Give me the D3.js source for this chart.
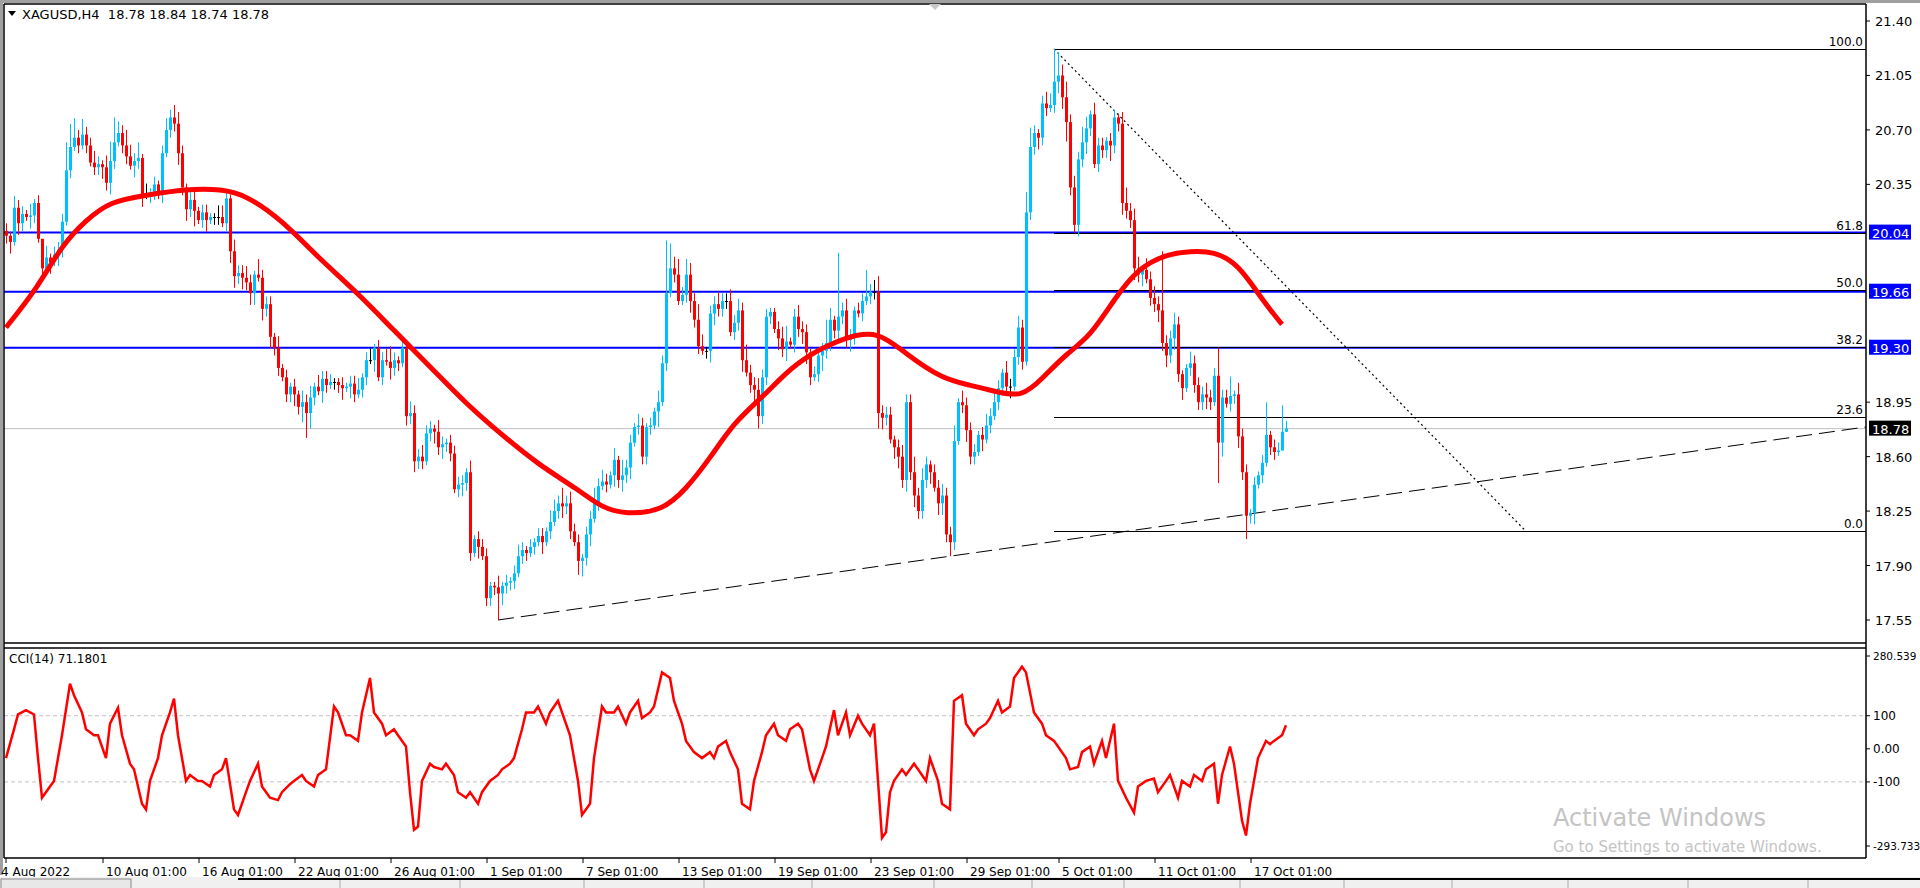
<!DOCTYPE html>
<html><head><meta charset="utf-8">
<script src="https://cdn.jsdelivr.net/npm/d3@7"></script>
<style>body{margin:0;background:#fff;overflow:hidden}svg{display:block;font-family:Tahoma,"DejaVu Sans",sans-serif}</style>
</head><body><svg id="c" width="1920" height="888"></svg>
<script>
const closes=[20.02,19.98,20.20,20.10,20.16,20.14,20.15,20.23,20.00,19.81,
19.88,19.85,19.90,19.93,20.11,20.44,20.59,20.65,20.60,20.67,
20.60,20.49,20.46,20.48,20.46,20.36,20.50,20.62,20.68,20.60,
20.53,20.47,20.50,20.52,20.28,20.28,20.30,20.35,20.28,20.55,
20.70,20.78,20.74,20.55,20.33,20.19,20.25,20.18,20.12,20.17,
20.12,20.14,20.14,20.14,20.10,20.26,19.92,19.76,19.78,19.75,
19.72,19.65,19.77,19.75,19.55,19.58,19.37,19.30,19.17,19.11,
19.00,19.05,19.00,18.92,18.95,18.88,18.98,19.05,19.02,19.10,
19.06,19.08,19.08,19.06,19.04,19.05,19.07,19.00,19.03,19.11,
19.22,19.22,19.30,19.11,19.22,19.21,19.17,19.22,19.20,19.30,
18.86,18.88,18.57,18.60,18.57,18.75,18.78,18.76,18.66,18.68,
18.69,18.62,18.39,18.42,18.43,18.50,17.98,18.07,18.02,17.96,
17.69,17.77,17.76,17.72,17.77,17.79,17.80,17.85,17.96,18.00,
17.98,18.02,18.05,18.09,18.05,18.12,18.18,18.25,18.30,18.28,
18.30,18.12,18.05,17.93,17.95,18.10,18.20,18.30,18.41,18.44,
18.42,18.48,18.58,18.45,18.48,18.53,18.69,18.79,18.80,18.60,
18.79,18.80,18.89,18.95,19.20,19.65,19.81,19.77,19.60,19.64,
19.77,19.60,19.48,19.31,19.28,19.28,19.52,19.58,19.55,19.60,
19.60,19.40,19.46,19.54,19.22,19.14,19.06,19.03,18.86,19.11,
19.50,19.53,19.42,19.36,19.29,19.34,19.32,19.50,19.42,19.40,
19.27,19.11,19.13,19.25,19.28,19.33,19.48,19.41,19.50,19.54,
19.35,19.37,19.54,19.52,19.60,19.63,19.66,19.66,18.88,18.85,
18.87,18.71,18.66,18.60,18.45,18.95,18.50,18.35,18.25,18.45,
18.55,18.50,18.40,18.30,18.35,18.10,18.05,18.70,18.95,18.93,
18.77,18.60,18.63,18.74,18.71,18.80,18.86,18.95,19.04,19.14,
19.05,19.05,19.24,19.43,19.21,20.17,20.59,20.68,20.65,20.87,
20.84,20.86,21.01,21.05,20.91,20.75,20.33,20.09,20.51,20.62,
20.71,20.80,20.48,20.60,20.57,20.63,20.60,20.78,20.74,20.23,
20.18,20.12,19.81,19.77,19.80,19.74,19.62,19.58,19.54,19.33,
19.25,19.36,19.45,19.13,19.04,19.17,19.20,19.06,18.95,19.00,
18.98,18.95,19.12,18.69,18.98,18.94,18.99,19.00,18.73,18.50,
18.22,18.24,18.42,18.48,18.56,18.74,18.66,18.63,18.64,18.76,18.78];
const firstOpen=20.05;
// wick lengths, one digit per bar, in units of 0.025
const upperWicks="2132213120312224652422321352324324131212321321231221133213223214222131212132313222112122312312234213232232213212222131222113121232121221332423221224232131422132121324634243243122322323242232211234123221212631423212232342221232242321223224132221232321322322521233463423243132212213423313232322321132223223225132212123122423";
const lowerWicks="2313213212231321212121223232122132312212122323241231221233232331323221223242421321223132122131213221223221232322123221312223322212212131212322134231212132323122221412121123221233222122312322221323122332124222322321212243213323232223133212123221312122231221223221233522323212224223223231223232323122223213312232223121221";
const highOverrides=[[262,21.22],[165,19.99],[166,19.97],[208,19.91],[215,19.80],[289,19.92],[303,19.30],[315,18.95],[319,18.93],[42,20.86],[27,20.78],[15,20.62],[255,20.30],[264,21.12]];
const lowOverrides=[[123,17.55],[236,17.96],[310,18.07],[75,18.72],[303,18.43],[143,17.84],[188,18.78],[102,18.50],[304,18.60],[100,18.80]];
const maPoints=[[0,19.43],[8,19.69],[14,19.96],[20,20.12],[26,20.24],[35,20.28],[45,20.32],[54,20.32],[60,20.28],[69,20.12],[78,19.88],[88,19.65],[97,19.41],[106,19.18],[115,18.94],[124,18.74],[133,18.55],[143,18.39],[149,18.27],[155,18.23],[164,18.25],[170,18.39],[176,18.59],[182,18.82],[189,18.98],[195,19.14],[201,19.26],[210,19.37],[218,19.41],[225,19.26],[234,19.10],[241,19.06],[247,19.02],[254,18.98],[259,19.10],[265,19.26],[271,19.37],[277,19.61],[283,19.81],[290,19.90],[296,19.92],[302,19.92],[308,19.84],[314,19.61],[319,19.45]];
const cciPoints=[[0,-28],[2,59],[3,104],[5,117],[7,104],[8,-28],[9,-148],[11,-114],[12,-97],[14,41],[16,197],[17,162],[19,110],[20,59],[22,41],[23,41],[25,-28],[26,76],[28,124],[29,41],[31,-45],[32,-62],[34,-166],[35,-183],[36,-97],[38,-28],[39,41],[41,110],[42,152],[43,41],[45,-97],[46,-79],[48,-97],[49,-97],[51,-114],[52,-79],[54,-62],[55,-28],[57,-183],[58,-200],[60,-131],[61,-97],[63,-45],[64,-114],[66,-148],[68,-155],[69,-131],[71,-107],[72,-97],[74,-79],[75,-97],[77,-114],[78,-79],[80,-62],[82,128],[83,110],[85,41],[86,41],[88,24],[89,110],[91,214],[92,110],[94,76],[95,41],[97,59],[98,41],[100,7],[101,-131],[102,-245],[103,-235],[104,-97],[106,-45],[107,-55],[109,-62],[110,-45],[112,-79],[113,-131],[115,-148],[116,-131],[118,-166],[119,-131],[121,-97],[123,-79],[124,-62],[126,-45],[127,-28],[129,59],[130,110],[132,110],[133,128],[135,76],[136,110],[138,145],[139,110],[141,41],[143,-97],[144,-200],[146,-166],[147,-28],[149,128],[150,110],[152,110],[153,128],[155,76],[156,110],[158,145],[159,93],[161,110],[162,128],[164,231],[166,214],[167,145],[169,76],[170,24],[172,-10],[174,-28],[176,-10],[177,-28],[178,7],[180,24],[181,-10],[183,-62],[184,-166],[186,-183],[187,-97],[189,-10],[190,41],[192,76],[193,41],[195,24],[196,59],[198,76],[199,59],[201,-62],[202,-97],[204,-28],[205,7],[207,117],[208,41],[210,110],[211,41],[213,100],[214,76],[216,41],[217,76],[219,-269],[220,-252],[221,-131],[222,-97],[224,-62],[225,-79],[227,-45],[228,-62],[230,-97],[231,-28],[233,-97],[234,-166],[236,-183],[237,145],[239,162],[240,76],[242,41],[243,59],[245,76],[246,93],[248,145],[249,110],[251,128],[252,214],[254,248],[255,231],[257,110],[259,76],[260,41],[262,24],[263,7],[265,-28],[266,-62],[268,-55],[269,-10],[271,7],[272,-45],[274,24],[275,-28],[277,76],[278,-97],[280,-148],[282,-193],[283,-114],[285,-97],[287,-90],[288,-131],[290,-97],[291,-79],[293,-148],[294,-97],[296,-114],[297,-79],[299,-97],[300,-62],[302,-45],[303,-166],[304,-79],[306,7],[307,-45],[309,-217],[310,-262],[311,-166],[313,-28],[315,24],[316,14],[317,24],[319,41],[320,71]];
const fibLevels=[0,23.6,38.2,50.0,61.8,100.0];
const fibLow=18.12, fibHigh=21.22;
const blueLevels=[20.04,19.66,19.30];
const priceTicks=[21.40,21.05,20.70,20.35,18.95,18.60,18.25,17.90,17.55];
const cciTicks=[[280.539,"280.539"],[100,"100"],[0,"0.00"],[-100,"-100"],[-293.733,"-293.733"]];
const dateLabels=[[0,"4 Aug 2022"],[24,"10 Aug 01:00"],[48,"16 Aug 01:00"],[72,"22 Aug 01:00"],[96,"26 Aug 01:00"],[120,"1 Sep 01:00"],[144,"7 Sep 01:00"],[168,"13 Sep 01:00"],[192,"19 Sep 01:00"],[216,"23 Sep 01:00"],[240,"29 Sep 01:00"],[263,"5 Oct 01:00"],[287,"11 Oct 01:00"],[311,"17 Oct 01:00"]];
const trendA=[123,17.55], trendB=[236,17.96];
const fibStart=262, fibEnd=[380,fibLow];
const lastPrice=18.78;

const svg=d3.select("#c");
const R=1866, PT=4, PB=643, CT=648, CB=858;
const x=d3.scaleLinear().domain([0,320]).range([6,1286]);
const y=d3.scaleLinear().domain([17.55,21.40]).range([620,21]);
const yc=d3.scaleLinear().domain([-293.733,280.539]).range([846,656]);

svg.append("rect").attr("x",0).attr("y",0).attr("width",1920).attr("height",888).attr("fill","#fff");
svg.append("rect").attr("x",0).attr("y",0).attr("width",1920).attr("height",3).attr("fill","#a0a0a0");
svg.append("rect").attr("x",0).attr("y",0).attr("width",3).attr("height",875).attr("fill","#a0a0a0");

const gP=svg.append("g"), gC=svg.append("g");
svg.append("clipPath").attr("id","cp").append("rect").attr("x",4).attr("y",PT).attr("width",R-4).attr("height",PB-PT);
svg.append("clipPath").attr("id","cc").append("rect").attr("x",4).attr("y",CT).attr("width",R-4).attr("height",CB-CT);
gP.attr("clip-path","url(#cp)"); gC.attr("clip-path","url(#cc)");

gP.append("line").attr("x1",4).attr("x2",R).attr("y1",y(lastPrice)).attr("y2",y(lastPrice)).attr("stroke","#c0c0c0");
blueLevels.forEach(v=>gP.append("line").attr("x1",4).attr("x2",R).attr("y1",y(v)).attr("y2",y(v)).attr("stroke","#0000ff").attr("stroke-width",2));
fibLevels.forEach(l=>{const v=fibLow+(fibHigh-fibLow)*l/100;
  gP.append("line").attr("x1",x(fibStart)).attr("x2",R).attr("y1",Math.round(y(v))+0.5).attr("y2",Math.round(y(v))+0.5).attr("stroke","#000").attr("stroke-width",1);
  gP.append("text").attr("x",R-3).attr("y",y(v)-3).attr("text-anchor","end").attr("font-size",12).text(l.toFixed(1));});
gP.append("line").attr("x1",x(fibStart)).attr("y1",y(fibHigh)).attr("x2",x(fibEnd[0])).attr("y2",y(fibEnd[1])).attr("stroke","#000").attr("stroke-dasharray","2,3").attr("stroke-width",1.2);
const slope=(trendB[1]-trendA[1])/(trendB[0]-trendA[0]);
const tEnd=x.invert(R);
gP.append("line").attr("x1",x(trendA[0])).attr("y1",y(trendA[1])).attr("x2",R).attr("y2",y(trendA[1]+slope*(tEnd-trendA[0]))).attr("stroke","#000").attr("stroke-dasharray","16,7");

const data=closes.map((c,i)=>{const o=i?closes[i-1]:firstOpen;
  let h=Math.max(o,c)+(+upperWicks[i]||0)*0.025, l=Math.min(o,c)-(+lowerWicks[i]||0)*0.025;return {i,o,c,h,l};});
highOverrides.forEach(([i,v])=>data[i].h=v); lowOverrides.forEach(([i,v])=>data[i].l=v);
const col=d=>Math.abs(d.c-d.o)<0.006?"#000":(d.c>d.o?"#00bfff":"#ff0000");
const cg=gP.append("g").selectAll("g").data(data).join("g");
cg.append("rect").attr("x",d=>Math.round(x(d.i))).attr("width",1).attr("y",d=>y(d.h)).attr("height",d=>y(d.l)-y(d.h)).attr("fill",col);
cg.append("rect").attr("x",d=>Math.round(x(d.i))-1).attr("width",3).attr("y",d=>y(Math.max(d.o,d.c))).attr("height",d=>Math.max(1,y(Math.min(d.o,d.c))-y(Math.max(d.o,d.c)))).attr("fill",col);

gP.append("path").datum(maPoints).attr("d",d3.line().x(d=>x(d[0])).y(d=>y(d[1])).curve(d3.curveBasis)).attr("fill","none").attr("stroke","#ff0000").attr("stroke-width",5);

[100,-100].forEach(v=>gC.append("line").attr("x1",4).attr("x2",R).attr("y1",yc(v)).attr("y2",yc(v)).attr("stroke","#c0c0c0").attr("stroke-dasharray","4,3"));
gC.append("path").datum(cciPoints).attr("d",d3.line().x(d=>x(d[0])).y(d=>yc(d[1])).curve(d3.curveLinear)).attr("fill","none").attr("stroke","#ff0000").attr("stroke-width",2.5);

const bl=(x1,y1,x2,y2)=>svg.append("line").attr("x1",x1).attr("y1",y1).attr("x2",x2).attr("y2",y2).attr("stroke","#000").attr("stroke-width",1.5);
bl(4,PT,R,PT); bl(4,PT,4,CB); bl(R,PT,R,CB); bl(4,PB,R,PB); bl(4,CT,R,CT); bl(4,CB,R,CB);

priceTicks.forEach(v=>{svg.append("line").attr("x1",R).attr("x2",R+4).attr("y1",y(v)).attr("y2",y(v)).attr("stroke","#000");
  svg.append("text").attr("x",R+9).attr("y",y(v)+5).attr("font-size",13).text(v.toFixed(2));});
const tag=(v,fill)=>{svg.append("rect").attr("x",R+3).attr("y",y(v)-8).attr("width",42).attr("height",15).attr("fill",fill);
  svg.append("text").attr("x",R+6).attr("y",y(v)+5).attr("font-size",13).attr("fill","#fff").text(v.toFixed(2));};
blueLevels.forEach(v=>tag(v,"#0000ff")); tag(lastPrice,"#000");
cciTicks.forEach(([v,t])=>{svg.append("line").attr("x1",R).attr("x2",R+4).attr("y1",yc(v)).attr("y2",yc(v)).attr("stroke","#000");
  svg.append("text").attr("x",R+7).attr("y",yc(v)+4).attr("font-size",t.length>5?10.5:12).text(t);});

dateLabels.forEach(([i,t])=>{const px=x(i)+(i?1:0);
  svg.append("line").attr("x1",px).attr("x2",px).attr("y1",CB).attr("y2",CB+5).attr("stroke","#000");
  svg.append("text").attr("x",i?px+3:1).attr("y",CB+18).attr("font-size",12).text(t);});

svg.append("path").attr("d","M8,11 L16,11 L12,16 Z").attr("fill","#000");
svg.append("text").attr("x",22).attr("y",19).attr("font-size",13).attr("xml:space","preserve").text("XAGUSD,H4  18.78 18.84 18.74 18.78");
svg.append("path").attr("d","M929,4 L941,4 L935,10 Z").attr("fill","#c8c8c8");
svg.append("text").attr("x",9).attr("y",663).attr("font-size",12).text("CCI(14) 71.1801");
svg.append("text").attr("x",1553).attr("y",826).attr("font-size",24).attr("fill","#c4c4c4").text("Activate Windows");
svg.append("text").attr("x",1553).attr("y",852).attr("font-size",15).attr("fill","#c4c4c4").text("Go to Settings to activate Windows.");
svg.append("rect").attr("x",0).attr("y",877).attr("width",1920).attr("height",11).attr("fill","#f0f0f0");
svg.append("line").attr("x1",238).attr("x2",1920).attr("y1",879).attr("y2",879).attr("stroke","#000").attr("stroke-width",2);
svg.append("rect").attr("x",1).attr("y",879).attr("width",130).attr("height",12).attr("fill","#e8e8e8").attr("stroke","#888");
[340,460,584,704,812,934,1032,1124,1240,1344,1452,1568,1688,1808].forEach(p=>svg.append("line").attr("x1",p).attr("x2",p).attr("y1",880).attr("y2",888).attr("stroke","#aaa"));
</script></body></html>
